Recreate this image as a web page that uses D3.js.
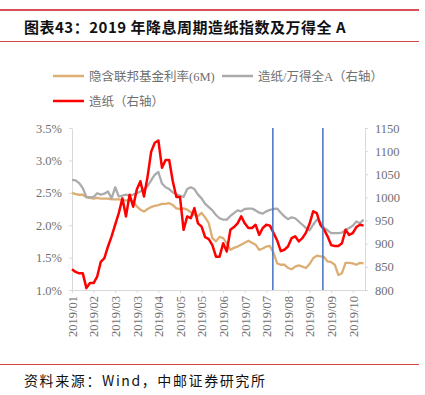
<!DOCTYPE html>
<html>
<head>
<meta charset="utf-8">
<script src="https://cdn.jsdelivr.net/npm/d3@7"></script>
<style>
  body { margin: 0; background: #fff; }
  svg { display: block; }
</style>
</head>
<body>
<svg id="chart" width="425" height="395"></svg>
<script>
// values, one sample every ~3.6px (6 samples per x tick)
const xLabels = ["2019/01", "2019/02", "2019/03", "2019/03", "2019/04", "2019/05", "2019/05",
    "2019/06", "2019/07", "2019/07", "2019/08", "2019/09", "2019/09", "2019/10"];

// 隐含联邦基金利率(6M), left axis, %
const fedRate = [2.50, 2.48, 2.47, 2.47, 2.43, 2.42, 2.41, 2.42, 2.41, 2.41,
    2.41, 2.40, 2.40, 2.40, 2.39, 2.38, 2.39, 2.37, 2.29, 2.24,
    2.21, 2.25, 2.28, 2.30, 2.31, 2.33, 2.33, 2.34, 2.31, 2.26,
    2.25, 2.26, 2.24, 2.20, 2.16, 2.14, 2.19, 2.12, 2.03, 1.80,
    1.75, 1.82, 1.80, 1.72, 1.62, 1.65, 1.67, 1.70, 1.73, 1.76,
    1.73, 1.70, 1.62, 1.64, 1.67, 1.68, 1.57, 1.41, 1.39, 1.39,
    1.34, 1.32, 1.36, 1.38, 1.36, 1.34, 1.40, 1.49, 1.53, 1.52,
    1.51, 1.44, 1.43, 1.39, 1.23, 1.26, 1.42, 1.42, 1.41, 1.39,
    1.42, 1.41];

// 造纸/万得全A, right axis
const paperVsA = [1038, 1037, 1031, 1020, 1001, 1000, 1001, 1009, 1006, 1008,
    1013, 998, 1022, 1002, 1004, 1006, 1004, 1006, 1009, 1013,
    1018, 1025, 1037, 1049, 1055, 1030, 1022, 1018, 1011, 1006,
    1004, 1001, 1018, 1022, 1018, 1006, 998, 986, 979, 972,
    962, 955, 952, 952, 960, 966, 972, 970, 975, 976,
    976, 972, 967, 965, 970, 973, 975, 976, 967, 959,
    953, 957, 955, 948, 941, 934, 929, 941, 952, 946,
    934, 929, 923, 923, 923, 924, 930, 934, 939, 948,
    944, 952];

// 造纸, right axis
const paper = [845, 839, 836, 836, 804, 815, 815, 829, 861, 869,
    894, 916, 941, 966, 998, 959, 1006, 980, 1017, 1035,
    1002, 1045, 1099, 1118, 1123, 1064, 1081, 1081, 1035, 1001,
    1001, 930, 959, 955, 977, 944, 937, 914, 910, 897,
    872, 872, 901, 883, 930, 936, 944, 959, 944, 934,
    934, 941, 919, 934, 941, 939, 923, 907, 884, 887,
    894, 912, 916, 905, 912, 924, 943, 970, 966, 941,
    931, 916, 897, 895, 895, 901, 930, 919, 923, 936,
    941, 939];

// sample positions of the two Fed cuts (blue markers)
const fedCuts = [55.8, 69.7];

const leftTicks = [1.0, 1.5, 2.0, 2.5, 3.0, 3.5];
const rightTicks = [800, 850, 900, 950, 1000, 1050, 1100, 1150];

const svg = d3.select("#chart");
const plot = {left: 72, right: 365, top: 128, bottom: 290};
const serif = "'Liberation Serif', 'Times New Roman', 'Noto Sans CJK SC', serif";
const cjk = "'Noto Sans CJK SC', sans-serif";
const axisGray = "#d9d9d9";
const textGray = "#6f6f6f";

const x = d3.scaleLinear().domain([0, 81.4]).range([plot.left, plot.right]);
const yL = d3.scaleLinear().domain([1.0, 3.5]).range([plot.bottom, plot.top]);
const yR = d3.scaleLinear().domain([800, 1150]).range([plot.bottom, plot.top]);

// header / footer rules
svg.append("line").attr("x1", 0).attr("x2", 419).attr("y1", 10).attr("y2", 10)
    .attr("stroke", "#c8161d").attr("stroke-width", 1.6);
svg.append("line").attr("x1", 0).attr("x2", 419).attr("y1", 41.5).attr("y2", 41.5)
    .attr("stroke", "#c8161d").attr("stroke-width", 0.8);
svg.append("line").attr("x1", 0).attr("x2", 419).attr("y1", 364.5).attr("y2", 364.5)
    .attr("stroke", "#c8161d").attr("stroke-width", 0.8);

svg.append("text")
    .attr("x", 24).attr("y", 33)
    .attr("font-family", cjk).attr("font-size", "15px").attr("font-weight", "bold")
    .attr("letter-spacing", "0.5px")
    .attr("fill", "#111")
    .text("图表43：2019 年降息周期造纸指数及万得全 A");

svg.append("text")
    .attr("x", 24).attr("y", 386)
    .attr("font-family", cjk).attr("font-size", "14px")
    .attr("letter-spacing", "1.6px")
    .attr("fill", "#111")
    .text("资料来源：Wind，中邮证券研究所");

// legend
const legendItems = [
    {label: "隐含联邦基金利率(6M)", color: "#dcae74", x: 53, y: 76},
    {label: "造纸/万得全A（右轴）", color: "#ababab", x: 222, y: 76},
    {label: "造纸（右轴）", color: "#ff0000", x: 53, y: 101}
];
const legend = svg.append("g");
legendItems.forEach(d => {
    legend.append("line")
        .attr("x1", d.x).attr("x2", d.x + 31).attr("y1", d.y).attr("y2", d.y)
        .attr("stroke", d.color).attr("stroke-width", 2.5);
    legend.append("text")
        .attr("x", d.x + 36).attr("y", d.y + 4.5)
        .attr("font-family", serif).attr("font-size", "12.5px")
        .attr("fill", textGray)
        .text(d.label);
});

// axes
function styleAxis(g) {
    g.select(".domain").attr("stroke", axisGray);
    g.selectAll(".tick line").attr("stroke", axisGray);
    g.selectAll(".tick text").attr("fill", textGray)
        .attr("font-family", serif).attr("font-size", "12.5px");
}

svg.append("g")
    .attr("transform", `translate(${plot.left},0)`)
    .call(d3.axisLeft(yL).tickValues(leftTicks).tickFormat(d => d.toFixed(1) + "%")
        .tickSize(3).tickSizeOuter(0).tickPadding(7))
    .call(styleAxis);

svg.append("g")
    .attr("transform", `translate(${plot.right},0)`)
    .call(d3.axisRight(yR).tickValues(rightTicks).tickFormat(d3.format("d"))
        .tickSize(3).tickSizeOuter(0).tickPadding(7))
    .call(styleAxis);

const xAxis = svg.append("g")
    .attr("transform", `translate(0,${plot.bottom})`)
    .call(d3.axisBottom(x).tickValues(d3.range(0, 79, 6)).tickFormat((d, i) => xLabels[i])
        .tickSize(3).tickSizeOuter(0))
    .call(styleAxis);

xAxis.selectAll(".tick text")
    .attr("transform", "rotate(-90)")
    .attr("text-anchor", "end")
    .attr("x", -6).attr("y", 0).attr("dy", "0.35em");

// series
const lineL = d3.line().x((d, i) => x(i)).y(d => yL(d));
const lineR = d3.line().x((d, i) => x(i)).y(d => yR(d));

svg.append("path").datum(fedRate).attr("d", lineL)
    .attr("fill", "none").attr("stroke", "#dcae74").attr("stroke-width", 2.3)
    .attr("stroke-linejoin", "round");
svg.append("path").datum(paperVsA).attr("d", lineR)
    .attr("fill", "none").attr("stroke", "#ababab").attr("stroke-width", 2.3)
    .attr("stroke-linejoin", "round");
svg.append("path").datum(paper).attr("d", lineR)
    .attr("fill", "none").attr("stroke", "#ff0000").attr("stroke-width", 2.5)
    .attr("stroke-linejoin", "round");

svg.selectAll(".cut").data(fedCuts).join("line")
    .attr("class", "cut")
    .attr("x1", d => x(d)).attr("x2", d => x(d))
    .attr("y1", plot.top).attr("y2", plot.bottom)
    .attr("stroke", "#4472c4").attr("stroke-width", 1.5);
</script>
</body>
</html>
